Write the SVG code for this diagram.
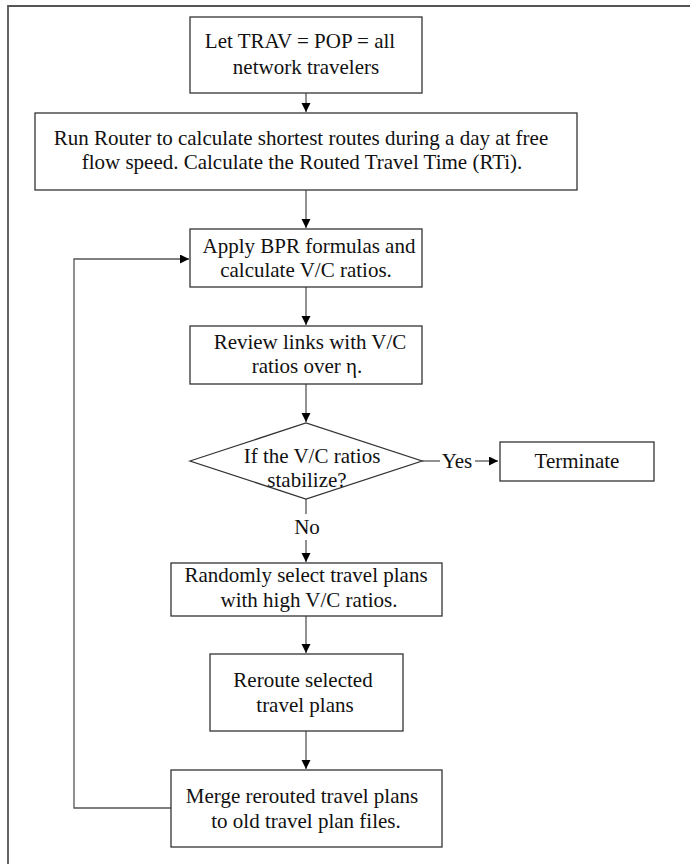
<svg xmlns="http://www.w3.org/2000/svg" width="690" height="864" viewBox="0 0 690 864">
<defs>
<marker id="ah" markerUnits="userSpaceOnUse" markerWidth="10" markerHeight="10" refX="9" refY="4.5" orient="auto">
<path d="M0,0 L9,4.5 L0,9 z" fill="#000"/>
</marker>
<style>
.box{fill:#fff;stroke:#333;stroke-width:1.3}
.t{font-family:"Liberation Serif","Times New Roman",serif;font-size:21px;fill:#111;text-anchor:middle}
.c{fill:none;stroke:#555;stroke-width:1.3}
.frame{fill:none;stroke:#555;stroke-width:1.8}
</style>
</defs>
<rect width="690" height="864" fill="#fff"/>
<path class="frame" d="M8,870 V6 H700"/>
<g id="connectors">
<path class="c" d="M306,93 V112" marker-end="url(#ah)"/>
<path class="c" d="M306,190 V228" marker-end="url(#ah)"/>
<path class="c" d="M306,287 V325" marker-end="url(#ah)"/>
<path class="c" d="M306,384 V422" marker-end="url(#ah)"/>
<path class="c" d="M422,461 H440"/>
<text class="t" x="457" y="468">Yes</text>
<path class="c" d="M475,461 H498" marker-end="url(#ah)"/>
<path class="c" d="M306,499 V514"/>
<text class="t" x="307" y="534">No</text>
<path class="c" d="M306,540 V562" marker-end="url(#ah)"/>
<path class="c" d="M306,616 V653" marker-end="url(#ah)"/>
<path class="c" d="M306,731 V769" stroke="#000" stroke-width="2" marker-end="url(#ah)"/>
<path class="c" d="M171,808 H74 V259 H189" marker-end="url(#ah)"/>
</g>
<g id="n1">
<rect class="box" x="190" y="17" width="232" height="76"/>
<text class="t" x="300" y="48">Let TRAV = POP = all</text>
<text class="t" x="306" y="74">network travelers</text>
</g>
<g id="n2">
<rect class="box" x="35" y="113" width="542" height="77"/>
<text class="t" x="301" y="145">Run Router to calculate shortest routes during a day at free</text>
<text class="t" x="302" y="169">flow speed. Calculate the Routed Travel Time (RTi).</text>
</g>
<g id="n3">
<rect class="box" x="190" y="229" width="232" height="58"/>
<text class="t" x="309" y="253">Apply BPR formulas and</text>
<text class="t" x="306" y="277">calculate V/C ratios.</text>
</g>
<g id="n4">
<rect class="box" x="190" y="326" width="232" height="58"/>
<text class="t" x="310" y="349">Review links with V/C</text>
<text class="t" x="307" y="373">ratios over η.</text>
</g>
<g id="n5">
<polygon class="box" points="190,461 306,423 422,461 306,499"/>
<text class="t" x="312" y="463">If the V/C ratios</text>
<text class="t" x="307" y="487">stabilize?</text>
</g>
<g id="n6">
<rect class="box" x="500" y="442" width="154" height="39"/>
<text class="t" x="577" y="468">Terminate</text>
</g>
<g id="n7">
<rect class="box" x="171" y="563" width="271" height="53"/>
<text class="t" x="306" y="582">Randomly select travel plans</text>
<text class="t" x="309" y="607">with high V/C ratios.</text>
</g>
<g id="n8">
<rect class="box" x="210" y="654" width="193" height="77"/>
<text class="t" x="303" y="687">Reroute selected</text>
<text class="t" x="305" y="712">travel plans</text>
</g>
<g id="n9">
<rect class="box" x="171" y="770" width="271" height="77"/>
<text class="t" x="302" y="803">Merge rerouted travel plans</text>
<text class="t" x="306" y="828">to old travel plan files.</text>
</g>
</svg>
